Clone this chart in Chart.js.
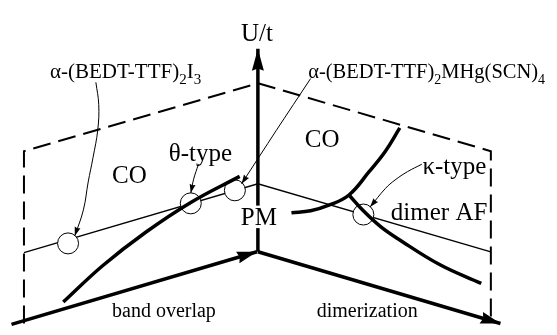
<!DOCTYPE html>
<html><head><meta charset="utf-8">
<script src="https://cdn.jsdelivr.net/npm/chart.js@4"></script>
<style>html,body{margin:0;padding:0;background:#fff}canvas{display:block}</style>
</head><body>
<canvas id="c" width="557" height="335"></canvas>
<script>
// Schematic phase diagram in (band overlap, dimerization, U/t) space.
// Diagram units: x to the right (0..557), y downward (0..335).

// Dashed outline of the cut plane, and its intersection with the basal plane
const frameEdge = [[13,335],[13,150],[257,77],[500,150],[500,332]];
const cutLine = [[13,259],[257,185],[500,258]];

// Axes: U/t upward, band overlap and dimerization in the basal plane
const uAxis = [[257,258],[257,40]];
const bandAxis = [[0,336],[256,258]];
const dimerAxis = [[257,258],[510,335]];

// Phase boundaries
const thetaBoundary = [[54,312],[95,273],[140,237],[187,205],[238,177]];
const coBoundary = [[292,216],[312,214],[331,208],[352,197],[373,172],[390,150],[405,125]];
const kappaBoundary = [[352,197],[367,214],[385,231],[403,244],[447,272],[490,292]];

// Materials on the cut line: α-I3, θ-type, α-MHg, κ-type
const materials = [[59,249],[187,206],[233,192],[367,218]];

// Pointers from the material names to their positions
const pointerI3 = [[88,76],[91,100],[90,127],[85,157],[80,183],[75,213],[66,241]];
const pointerTheta = [[195,164],[190,180],[187,195]];
const pointerMHg = [[312,72],[276,128],[240,185]];
const pointerKappa = [[428,164],[413,172],[400,181],[390,190],[374,210]];

// Text labels ("_x" marks a subscript character)
const labelText = ['U/t','α-(BEDT-TTF)_2I_3','α-(BEDT-TTF)_2MHg(SCN)_4','θ-type','κ-type',
                   'CO','CO','PM','dimer AF','band overlap','dimerization'];
const labelAt = [[256,23],[119,64],[433,64],[197,151],[462,165.5],
                 [123,174.5],[324,136.5],[258,220.5],[446,214.5],[159,321],[371,321]];
const labelSize = [25,21,20.5,25,25,25,25,25,25,20,20];

const pts = a => a.map(([x,y]) => ({x,y}));
const FONT = '"Liberation Serif", "Times New Roman", serif';

function line(data, width, extra) {
  return Object.assign({type:'scatter', data:pts(data), showLine:true, borderColor:'#000',
    borderWidth:width, pointRadius:0, fill:false, tension:0, clip:false,
    borderCapStyle:'butt', borderJoinStyle:'miter'}, extra || {});
}

// listed bottom to top
const layers = [
  line(frameEdge, 2, {borderDash:[18,8]}),
  line(cutLine, 1.3),
  {type:'scatter', data:pts(materials), showLine:false, pointRadius:10.5,
   pointBackgroundColor:'#fff', pointBorderColor:'#000', pointBorderWidth:1, clip:false},
  line(uAxis, 3.5, {arrow:[22,6]}),
  line(bandAxis, 3.5, {arrow:[20,6]}),
  line(dimerAxis, 3.5, {arrow:[20,6]}),
  line(thetaBoundary, 3.5, {tension:0.4}),
  line(coBoundary, 3.5, {tension:0.4}),
  line(kappaBoundary, 3.5, {tension:0.4}),
  line(pointerI3, 1, {tension:0.4, arrow:[9,3]}),
  line(pointerTheta, 1, {tension:0.4, arrow:[9,3]}),
  line(pointerMHg, 1, {tension:0.3, arrow:[9,3]}),
  line(pointerKappa, 1, {tension:0.4, arrow:[9,3]})
];
layers.forEach((d,i) => { d.order = layers.length - i; });

const arrowHeads = {
  id:'arrowHeads',
  afterDatasetsDraw(chart) {
    const ctx = chart.ctx;
    chart.data.datasets.forEach((ds, i) => {
      if (!ds.arrow) return;
      const els = chart.getDatasetMeta(i).data;
      const tip = els[els.length-1];
      let fx = tip.cp1x, fy = tip.cp1y;
      if (fx === undefined || Math.hypot(tip.x-fx, tip.y-fy) < 0.5) { fx = els[els.length-2].x; fy = els[els.length-2].y; }
      const [len, half] = ds.arrow;
      const a = Math.atan2(tip.y-fy, tip.x-fx);
      ctx.save();
      ctx.translate(tip.x, tip.y); ctx.rotate(a);
      ctx.beginPath(); ctx.moveTo(0,0); ctx.lineTo(-len,-half); ctx.lineTo(-len*0.9,0); ctx.lineTo(-len,half);
      ctx.closePath(); ctx.fillStyle='#000'; ctx.fill();
      ctx.restore();
    });
  }
};

function segments(t) {
  const out = []; let buf = '';
  for (let i = 0; i < t.length; i++) {
    if (t[i] === '_') { if (buf) out.push([buf,false]); buf=''; out.push([t[i+1],true]); i++; }
    else buf += t[i];
  }
  if (buf) out.push([buf,false]);
  return out;
}

const textLabels = {
  id:'textLabels',
  afterDraw(chart) {
    const ctx = chart.ctx, sx = chart.scales.x, sy = chart.scales.y;
    labelText.forEach((t, i) => {
      const size = labelSize[i], sub = Math.round(size*0.7);
      const segs = segments(t);
      let w = 0;
      segs.forEach(([s,isSub]) => { ctx.font = (isSub?sub:size)+'px '+FONT; w += ctx.measureText(s).width; });
      const cx = sx.getPixelForValue(labelAt[i][0]), cy = sy.getPixelForValue(labelAt[i][1]);
      let x = cx - w/2; const base = cy + size*0.34;
      if (t === 'PM') { ctx.fillStyle='#fff'; ctx.fillRect(x-1, cy-size*0.45, w+2, size*0.9); }
      ctx.fillStyle = '#000'; ctx.textBaseline = 'alphabetic'; ctx.textAlign = 'left';
      segs.forEach(([s,isSub]) => {
        ctx.font = (isSub?sub:size)+'px '+FONT;
        ctx.fillText(s, x, base + (isSub ? size*0.28 : 0));
        x += ctx.measureText(s).width;
      });
    });
  }
};

new Chart(document.getElementById('c'), {
  type:'scatter',
  data:{datasets:layers},
  options:{
    responsive:false, animation:false, events:[],
    layout:{padding:0},
    plugins:{legend:{display:false}, tooltip:{enabled:false}},
    scales:{
      x:{type:'linear', min:0, max:557, display:false},
      y:{type:'linear', min:0, max:335, reverse:true, display:false}
    }
  },
  plugins:[arrowHeads, textLabels]
});
</script>
</body></html>
